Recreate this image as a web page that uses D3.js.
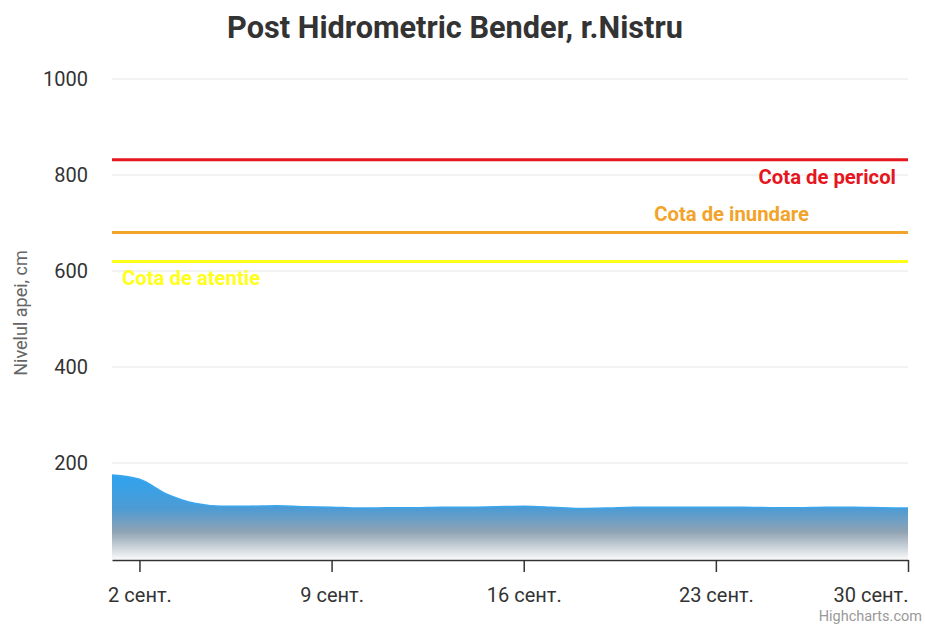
<!DOCTYPE html>
<html><head><meta charset="utf-8">
<script src="https://cdn.jsdelivr.net/npm/d3@7"></script>
<style>
html,body{margin:0;padding:0;background:#fff;}
svg{display:block;font-family:Roboto,"Noto Sans",sans-serif;}
</style></head>
<body><svg id="c" width="925" height="627"></svg>
<script>
const titleText = "Post Hidrometric Bender, r.Nistru";
const yTitle = "Nivelul apei, cm";
const days = [1,2,3,4,5,6,7,8,9,10,11,12,13,14,15,16,17,18,19,20,21,22,23,24,25,26,27,28,29,30];
const levels = [175,166,135,116,110,110,111,109,108,106,107,107,108,108,109,110,108,105,106,108,108,108,108,108,107,107,108,108,107,106];
const xTickDays = [2,9,16,23,30];
const xTickLabels = ["2 сент.","9 сент.","16 сент.","23 сент.","30 сент."];
const yTicks = [200,400,600,800,1000];
const plotLineNames = ["Cota de pericol","Cota de inundare","Cota de atentie"];
const plotLineValues = [832,680,620];
const plotLineColors = ["#e5161d","#f2a42a","#ffff1a"];

const svg = d3.select("#c");
const L = 112, R = 908, T = 79, B = 559;
const x = d3.scaleLinear().domain([1,30]).range([L,R]);
const y = d3.scaleLinear().domain([0,1000]).range([B,T]);

// title
svg.append("text").attr("x",455).attr("y",38).attr("text-anchor","middle")
  .attr("font-size",30.7).attr("font-weight",700).attr("fill","#333").text(titleText);

// grid
svg.append("g").selectAll("line").data(yTicks).join("line")
  .attr("x1",L).attr("x2",R).attr("y1",d=>y(d)).attr("y2",d=>y(d))
  .attr("stroke","#e6e6e6").attr("stroke-width",1);

// y tick labels
svg.append("g").selectAll("text").data(yTicks).join("text")
  .attr("x",88).attr("y",d=>y(d)+7).attr("text-anchor","end")
  .attr("font-size",20).attr("fill","#333").text(d=>d);

// y title
svg.append("text").attr("transform","translate(27,313) rotate(-90)")
  .attr("text-anchor","middle").attr("font-size",18).attr("fill","#666").text(yTitle);

// area gradient
const defs = svg.append("defs");
const grad = defs.append("linearGradient").attr("id","ag")
  .attr("gradientUnits","userSpaceOnUse").attr("x1",0).attr("x2",0)
  .attr("y1",y(d3.max(levels))).attr("y2",y(0));
[[0,"#2ea3f0"],[0.4,"#4d9bd4"],[0.68,"#90a3b3"],[1,"#f8f8f8"]].forEach(s=>
  grad.append("stop").attr("offset",s[0]).attr("stop-color",s[1]));

const pts = days.map((d,i)=>[d,levels[i]]);
svg.append("path").datum(pts)
  .attr("d",d3.area().x(d=>x(d[0])).y0(y(0)).y1(d=>y(d[1])).curve(d3.curveMonotoneX))
  .attr("fill","url(#ag)");
svg.append("path").datum(pts)
  .attr("d",d3.line().x(d=>x(d[0])).y(d=>y(d[1])).curve(d3.curveMonotoneX))
  .attr("fill","none").attr("stroke","#3aa6ee").attr("stroke-width",1.5);

// plot lines
svg.append("g").selectAll("line").data(plotLineValues).join("line")
  .attr("x1",L).attr("x2",R).attr("y1",d=>y(d)).attr("y2",d=>y(d))
  .attr("stroke",(d,i)=>plotLineColors[i]).attr("stroke-width",3);

const lblPos = [
  {x:896, dy:24, anchor:"end"},
  {x:809, dy:-12, anchor:"end"},
  {x:122, dy:24, anchor:"start"}
];
svg.append("g").selectAll("text").data(plotLineValues).join("text")
  .attr("x",(d,i)=>lblPos[i].x).attr("y",(d,i)=>y(d)+lblPos[i].dy)
  .attr("text-anchor",(d,i)=>lblPos[i].anchor)
  .attr("font-size",20.3).attr("font-weight",700)
  .attr("fill",(d,i)=>plotLineColors[i]).text((d,i)=>plotLineNames[i]);

// x axis
const xAxis = d3.axisBottom(x).tickValues(xTickDays)
  .tickFormat((d,i)=>xTickLabels[i]).tickSize(12).tickPadding(16).tickSizeOuter(0);
const gx = svg.append("g").attr("transform",`translate(0,${B+1})`).call(xAxis);
gx.select(".domain").attr("stroke","#333").attr("stroke-width",1.5);
gx.selectAll(".tick line").attr("stroke","#333").attr("stroke-width",1.5);
gx.selectAll(".tick text").attr("font-size",20).attr("fill","#333")
  .attr("font-family","Roboto,'Noto Sans',sans-serif");
gx.selectAll(".tick text").filter((d,i)=>i===xTickDays.length-1).attr("text-anchor","end");

// credits
svg.append("text").attr("x",922).attr("y",621).attr("text-anchor","end")
  .attr("font-size",14.5).attr("fill","#999").text("Highcharts.com");
</script></body></html>
